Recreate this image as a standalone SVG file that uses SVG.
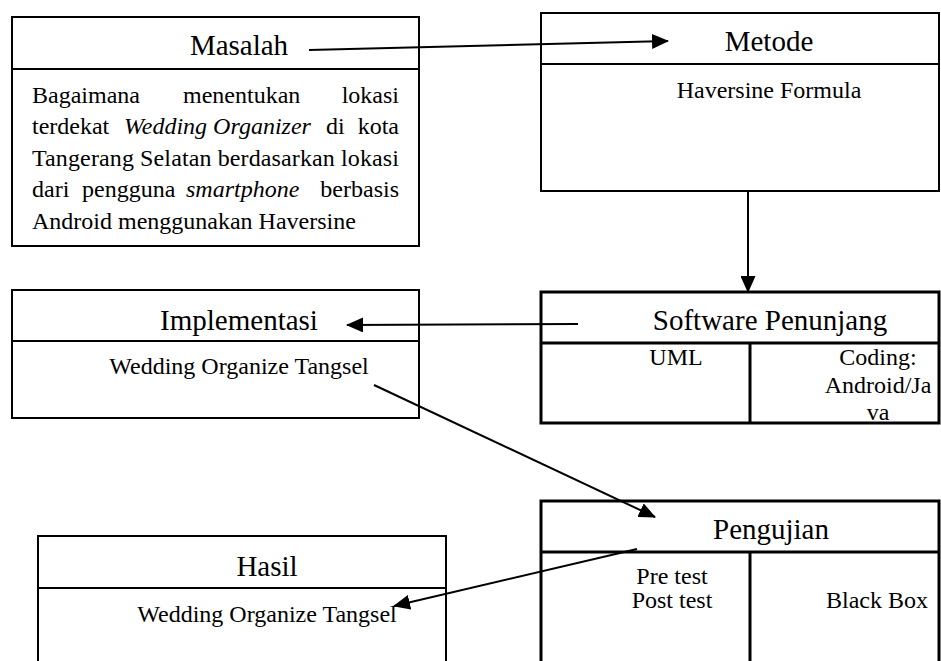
<svg xmlns="http://www.w3.org/2000/svg" width="941" height="661" viewBox="0 0 941 661">
<style>
.box{fill:#fff;stroke:#000;stroke-width:2}
.boxb{fill:#fff;stroke:#000;stroke-width:3}
.ln{stroke:#000;stroke-width:2;fill:none}
.lnb{stroke:#000;stroke-width:3;fill:none}
.h{font-family:"Liberation Serif","Times New Roman",serif;font-size:29px;fill:#000;text-anchor:middle}
.t{font-family:"Liberation Serif","Times New Roman",serif;font-size:24px;fill:#000}
.c{text-anchor:middle}
.e{text-anchor:end}
.i{font-style:italic}
.con{stroke:#000;stroke-width:2;fill:none;marker-end:url(#ah)}
</style>
<defs>
<marker id="ah" markerUnits="userSpaceOnUse" markerWidth="17" markerHeight="15" refX="16" refY="7.5" orient="auto">
<path d="M0,0 L17,7.5 L0,15 z" fill="#000"/>
</marker>
</defs>
<rect width="941" height="661" fill="#fff"/>

<g id="masalah">
<rect class="box" x="12" y="17" width="407" height="229"/>
<line class="ln" x1="12" y1="69" x2="419" y2="69"/>
<text class="h" x="239" y="55">Masalah</text>
<text class="t" x="32" y="103">Bagaimana</text>
<text class="t" x="183" y="103">menentukan</text>
<text class="t e" x="399" y="103">lokasi</text>
<text class="t" x="32" y="134">terdekat</text>
<text class="t i" x="124" y="134">Wedding Organizer</text>
<text class="t" x="326" y="134">di</text>
<text class="t e" x="399" y="134">kota</text>
<text class="t" x="32" y="166" textLength="367" lengthAdjust="spacing">Tangerang Selatan berdasarkan lokasi</text>
<text class="t" x="32" y="197">dari</text>
<text class="t" x="82" y="197">pengguna</text>
<text class="t i" x="186" y="197">smartphone</text>
<text class="t e" x="399" y="197">berbasis</text>
<text class="t" x="32" y="229">Android menggunakan Haversine</text>
</g>

<g id="metode">
<rect class="box" x="541" y="13" width="398" height="178"/>
<line class="ln" x1="541" y1="64" x2="939" y2="64"/>
<text class="h" x="769" y="51">Metode</text>
<text class="t c" x="769" y="98">Haversine Formula</text>
</g>

<g id="implementasi">
<rect class="box" x="12" y="290" width="407" height="128"/>
<line class="ln" x1="12" y1="341" x2="419" y2="341"/>
<text class="h" x="239" y="330">Implementasi</text>
<text class="t c" x="239" y="374">Wedding Organize Tangsel</text>
</g>

<g id="software">
<rect class="boxb" x="541" y="292" width="398" height="131"/>
<line class="lnb" x1="541" y1="343" x2="939" y2="343"/>
<line class="lnb" x1="750" y1="343" x2="750" y2="423"/>
<text class="h" x="770" y="330">Software Penunjang</text>
<text class="t c" x="676" y="365">UML</text>
<text class="t c" x="878" y="365">Coding:</text>
<text class="t c" x="878" y="393">Android/Ja</text>
<text class="t c" x="878" y="420">va</text>
</g>

<g id="pengujian">
<rect class="boxb" x="541" y="501" width="398" height="200"/>
<line class="lnb" x1="541" y1="552" x2="939" y2="552"/>
<line class="lnb" x1="750" y1="552" x2="750" y2="661"/>
<text class="h" x="771" y="539">Pengujian</text>
<text class="t c" x="672" y="584">Pre test</text>
<text class="t c" x="672" y="608">Post test</text>
<text class="t c" x="877" y="608">Black Box</text>
</g>

<g id="hasil">
<rect class="box" x="38" y="536" width="408" height="200"/>
<line class="ln" x1="38" y1="588" x2="446" y2="588"/>
<text class="h" x="267" y="576">Hasil</text>
<text class="t c" x="267" y="622">Wedding Organize Tangsel</text>
</g>

<g id="connectors">
<line class="con" x1="309" y1="50" x2="668" y2="41"/>
<line class="con" x1="748" y1="192" x2="748" y2="292"/>
<line class="con" x1="578" y1="324" x2="347" y2="325"/>
<line class="con" x1="374" y1="385" x2="655" y2="517"/>
<line class="con" x1="637" y1="549" x2="394" y2="606"/>
</g>
</svg>
